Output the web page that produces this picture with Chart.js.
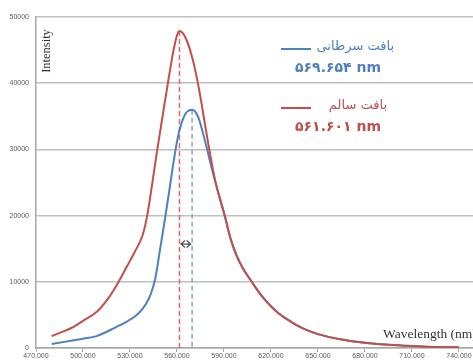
<!DOCTYPE html>
<html>
<head>
<meta charset="utf-8">
<script src="https://cdn.jsdelivr.net/npm/chart.js@4.4.1/dist/chart.umd.min.js"></script>
<style>
  html, body { margin: 0; padding: 0; background: #fff; }
  #wrap { width: 473px; height: 361px; position: relative; }
</style>
</head>
<body>
<div id="wrap"><canvas id="chart"></canvas></div>
<script>
// healthy tissue (red)
const redWl = [480, 494, 500, 509, 517, 522.5, 528, 533, 538, 541, 544, 547, 550, 552, 554, 556, 558, 560, 561.6, 564, 566, 568, 570, 572, 574, 576, 578, 581, 584.3, 587.5, 590.6, 594, 598, 602, 606, 610, 615, 620, 625, 630, 636, 643, 650, 665, 680, 695, 710, 725, 740];
const redVal = [1800, 3200, 4100, 5500, 7800, 9900, 12300, 14500, 17000, 20000, 24500, 29300, 33800, 36800, 39700, 42600, 45200, 47200, 47900, 47500, 46600, 45300, 43600, 41600, 39200, 36500, 33600, 29500, 25400, 22500, 19900, 16700, 14000, 12100, 10600, 9200, 7600, 6300, 5200, 4400, 3500, 2700, 2100, 1300, 800, 500, 300, 150, 100];

// cancer tissue (blue)
const blueWl = [480, 490, 500, 508.7, 521.5, 528, 534.3, 538, 541.7, 543, 546, 549, 552, 555, 557.5, 559.5, 561.5, 564, 566.5, 569.7, 572, 574, 576, 578, 581, 584, 587.5, 590.6, 594, 598, 602, 606, 610, 615, 620, 625, 630, 636, 643, 650, 665, 680, 695, 710, 725, 740];
const blueVal = [600, 1000, 1400, 1800, 3200, 4000, 5000, 5900, 7300, 8000, 10300, 14600, 19000, 23600, 27600, 30500, 32800, 34700, 35700, 36000, 35600, 34600, 33000, 31200, 28300, 25500, 22500, 19900, 16700, 14000, 12100, 10600, 9200, 7600, 6300, 5200, 4400, 3500, 2700, 2100, 1300, 800, 500, 300, 150, 100];

const peakWl = [561.601, 569.654];
const peakVal = [47900, 36000];
const arrowLevel = 15700;

const xTicks = [470, 500, 530, 560, 590, 620, 650, 680, 710, 740];
const yTicks = [0, 10000, 20000, 30000, 40000, 50000];

const legendNames = ['بافت سرطانی', 'بافت سالم'];
const legendPeaks = ['۵۶۹.۶۵۴ nm', '۵۶۱.۶۰۱ nm'];

const RED = '#c0504d';
const BLUE = '#4f81bd';

const toPts = (xs, ys) => xs.map((x, i) => ({ x, y: ys[i] }));

const arrowPlugin = {
  id: 'peakArrow',
  afterDatasetsDraw(chart) {
    const ctx = chart.ctx;
    const xs = chart.scales.x;
    const y = chart.scales.y.getPixelForValue(arrowLevel);
    const x1 = xs.getPixelForValue(peakWl[0]) + 1.5;
    const x2 = xs.getPixelForValue(peakWl[1]) - 1.5;
    ctx.save();
    ctx.strokeStyle = '#4d4d4d';
    ctx.lineWidth = 1.2;
    ctx.beginPath();
    ctx.moveTo(x1, y); ctx.lineTo(x2, y);
    ctx.moveTo(x1 + 4, y - 3.5); ctx.lineTo(x1, y); ctx.lineTo(x1 + 4, y + 3.5);
    ctx.moveTo(x2 - 4, y - 3.5); ctx.lineTo(x2, y); ctx.lineTo(x2 - 4, y + 3.5);
    ctx.stroke();
    ctx.restore();
  }
};

const textPlugin = {
  id: 'labels',
  afterDraw(chart) {
    const ctx = chart.ctx;
    const a = chart.chartArea;
    ctx.save();
    // axis titles inside the plot
    ctx.fillStyle = '#333';
    ctx.font = '12.5px "Liberation Serif"';
    ctx.textAlign = 'center';
    ctx.textBaseline = 'middle';
    ctx.translate(a.left + 11, a.top + 34);
    ctx.rotate(-Math.PI / 2);
    ctx.fillText('Intensity', 0, 0);
    ctx.setTransform(1, 0, 0, 1, 0, 0);
    ctx.font = '13.5px "Liberation Serif"';
    ctx.textAlign = 'left';
    ctx.fillText('Wavelength (nm)', 383, 334);

    // legend
    const rows = [
      { c: BLUE, lineY: 49, nameRight: 394, numY: 68 },
      { c: RED, lineY: 108, nameRight: 387, numY: 127 }
    ];
    rows.forEach((r, i) => {
      ctx.strokeStyle = r.c;
      ctx.lineWidth = 2;
      ctx.beginPath();
      ctx.moveTo(281, r.lineY); ctx.lineTo(311, r.lineY);
      ctx.stroke();
      ctx.fillStyle = r.c;
      ctx.font = '13px "DejaVu Sans"';
      ctx.textAlign = 'right';
      ctx.textBaseline = 'middle';
      ctx.fillText(legendNames[i], r.nameRight, r.lineY - 2);
      ctx.font = 'bold 14px "DejaVu Sans"';
      ctx.textAlign = 'center';
      ctx.fillText(legendPeaks[i], 338, r.numY);
    });
    ctx.restore();
  }
};

Chart.register(arrowPlugin, textPlugin);

const chart = new Chart(document.getElementById('chart'), {
  type: 'line',
  data: {
    datasets: [
      {
        label: legendNames[1],
        data: toPts(redWl, redVal),
        borderColor: RED,
        borderWidth: 2,
        pointRadius: 0,
        cubicInterpolationMode: 'monotone'
      },
      {
        label: legendNames[0],
        data: toPts(blueWl, blueVal),
        borderColor: BLUE,
        borderWidth: 2,
        pointRadius: 0,
        cubicInterpolationMode: 'monotone'
      },
      {
        label: 'red peak',
        data: [{ x: peakWl[0], y: peakVal[0] }, { x: peakWl[0], y: 0 }],
        borderColor: '#e8676a',
        borderWidth: 1.5,
        borderDash: [5, 3],
        pointRadius: 0
      },
      {
        label: 'blue peak',
        data: [{ x: peakWl[1], y: peakVal[1] }, { x: peakWl[1], y: 0 }],
        borderColor: '#8aa6d6',
        borderWidth: 1.5,
        borderDash: [5, 3],
        pointRadius: 0
      }
    ]
  },
  options: {
    animation: false,
    responsive: true,
    maintainAspectRatio: false,
    plugins: { legend: { display: false }, tooltip: { enabled: false } },
    layout: { padding: { top: 17, right: 0, left: 0, bottom: 0 } },
    scales: {
      x: {
        type: 'linear',
        min: 470,
        max: 749,
        afterBuildTicks: s => { s.ticks = xTicks.map(v => ({ value: v })); },
        afterFit: s => { s.height = 13; },
        border: { color: '#a6a6a6', width: 1.5 },
        grid: { drawOnChartArea: false, drawTicks: true, tickLength: 4, color: '#a6a6a6' },
        ticks: {
          padding: 0,
          maxRotation: 0,
          autoSkip: false,
          color: '#595959',
          font: { family: 'Liberation Sans', size: 7 },
          callback: v => Number(v).toFixed(3)
        }
      },
      y: {
        min: 0,
        max: 50000,
        afterBuildTicks: s => { s.ticks = yTicks.map(v => ({ value: v })); },
        afterFit: s => { s.width = 36; },
        border: { color: '#a6a6a6', width: 1.5 },
        grid: { color: '#bfbfbf', lineWidth: 1.5, drawTicks: false },
        ticks: {
          padding: 7,
          color: '#595959',
          font: { family: 'Liberation Sans', size: 7 },
          callback: v => String(v)
        }
      }
    }
  }
});
</script>
</body>
</html>
